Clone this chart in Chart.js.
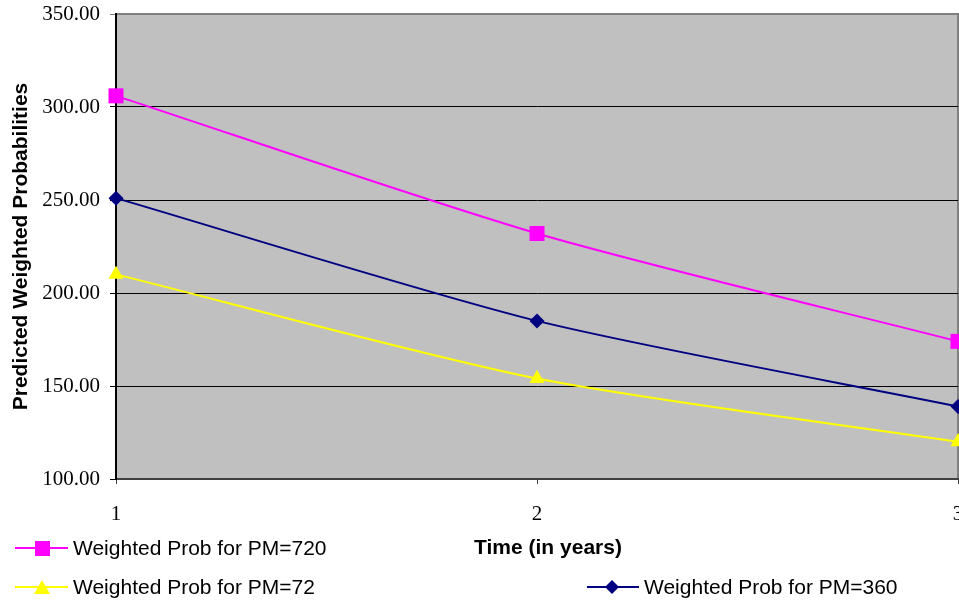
<!DOCTYPE html>
<html>
<head>
<meta charset="utf-8">
<script src="https://cdn.jsdelivr.net/npm/chart.js@4/dist/chart.umd.min.js"></script>
<style>
  html, body { margin: 0; padding: 0; background: #fff; }
  #wrap { position: relative; width: 959px; height: 600px; overflow: hidden; }
  #chart { position: absolute; left: 0; top: 0; }
  .lab { position: absolute; font-family: 'Liberation Sans', Arial, sans-serif; font-size: 21px; color: #000; white-space: nowrap; line-height: 24px; }
  .xtitle { font-weight: bold; transform: translateX(-50%); }
  .key { position: absolute; }
</style>
</head>
<body>
<div id="wrap">
  <canvas id="chart" width="959" height="600"></canvas>
  <div class="lab xtitle" style="left:548px; top:535px;">Time (in years)</div>
  <svg class="key" style="left:15px; top:538px;" width="54" height="20">
    <line x1="0" y1="10" x2="53" y2="10" stroke="#FF00FF" stroke-width="2"/>
    <rect x="20" y="3" width="15" height="15" fill="#FF00FF"/>
  </svg>
  <div class="lab" style="left:73px; top:536px;">Weighted Prob for PM=720</div>
  <svg class="key" style="left:15px; top:577px;" width="54" height="20">
    <line x1="0" y1="10" x2="53" y2="10" stroke="#FFFF00" stroke-width="2"/>
    <polygon points="27,3 35,17 19,17" fill="#FFFF00"/>
  </svg>
  <div class="lab" style="left:73px; top:575px;">Weighted Prob for PM=72</div>
  <svg class="key" style="left:587px; top:577px;" width="54" height="20">
    <line x1="0" y1="10" x2="52" y2="10" stroke="#000080" stroke-width="2"/>
    <polygon points="25,3 32,10 25,17 18,10" fill="#000080"/>
  </svg>
  <div class="lab" style="left:644px; top:575px;">Weighted Prob for PM=360</div>
</div>
<script>
const years = ['1', '2', '3']
const pm720 = [306, 232, 174]
const pm360 = [251, 185, 139]
const pm72 = [210, 154, 120]
const yTicks = [100, 150, 200, 250, 300, 350]

const plotBack = {
  id: 'plotBack',
  beforeDraw(chart) {
    const { ctx, chartArea: a } = chart
    ctx.save()
    ctx.fillStyle = '#C0C0C0'
    ctx.fillRect(a.left, a.top, a.right - a.left, a.bottom - a.top)
    ctx.strokeStyle = '#808080'
    ctx.lineWidth = 2
    ctx.beginPath()
    ctx.moveTo(a.left, a.top)
    ctx.lineTo(a.right, a.top)
    ctx.lineTo(a.right, a.bottom)
    ctx.stroke()
    ctx.restore()
  },
}

function series(label, data, color, style, radius) {
  return {
    label,
    data,
    borderColor: color,
    backgroundColor: color,
    borderWidth: 2,
    tension: 0.25,
    pointStyle: style,
    pointRadius: radius,
    pointHoverRadius: radius,
    pointBorderWidth: 0,
    pointBackgroundColor: color,
    clip: false,
  }
}

new Chart(document.getElementById('chart'), {
  type: 'line',
  data: {
    labels: years,
    datasets: [
      series('Weighted Prob for PM=720', pm720, '#FF00FF', 'rect', 10.6),
      series('Weighted Prob for PM=360', pm360, '#000080', 'rectRot', 7.5),
      series('Weighted Prob for PM=72', pm72, '#FFFF00', 'triangle', 8.7),
    ],
  },
  options: {
    responsive: false,
    animation: false,
    layout: { autoPadding: false, padding: { top: 14, right: 1, left: 0, bottom: 0 } },
    plugins: {
      legend: { display: false },
      tooltip: { enabled: false },
    },
    scales: {
      x: {
        offset: false,
        grid: { drawOnChartArea: false, tickLength: 5, color: '#404040' },
        border: { color: '#404040', width: 2 },
        ticks: {
          color: '#000',
          padding: 18,
          maxRotation: 0,
          font: { family: "'Liberation Serif', 'Times New Roman', serif", size: 21 },
        },
        afterFit: (scale) => {
          scale.height = 121
          scale.paddingLeft = 0
          scale.paddingRight = 0
        },
      },
      y: {
        min: 100,
        max: 350,
        afterBuildTicks: (scale) => {
          scale.ticks = yTicks.map((value) => ({ value }))
        },
        grid: {
          tickLength: 6,
          color: (c) => (c.tick && c.tick.value === 350 ? '#808080' : '#000'),
        },
        border: { color: '#000', width: 2 },
        ticks: {
          color: '#000',
          padding: 10,
          font: { family: "'Liberation Serif', 'Times New Roman', serif", size: 21 },
          callback: (value) => Number(value).toFixed(2),
        },
        title: {
          display: true,
          text: 'Predicted Weighted Probabilities',
          color: '#000',
          padding: { top: 9, bottom: 0 },
          font: { family: "'Liberation Sans', Arial, sans-serif", size: 21, weight: 'bold' },
        },
        afterFit: (scale) => {
          scale.width = 116
          scale.paddingTop = 0
          scale.paddingBottom = 0
        },
      },
    },
  },
  plugins: [plotBack],
})
</script>
</body>
</html>
